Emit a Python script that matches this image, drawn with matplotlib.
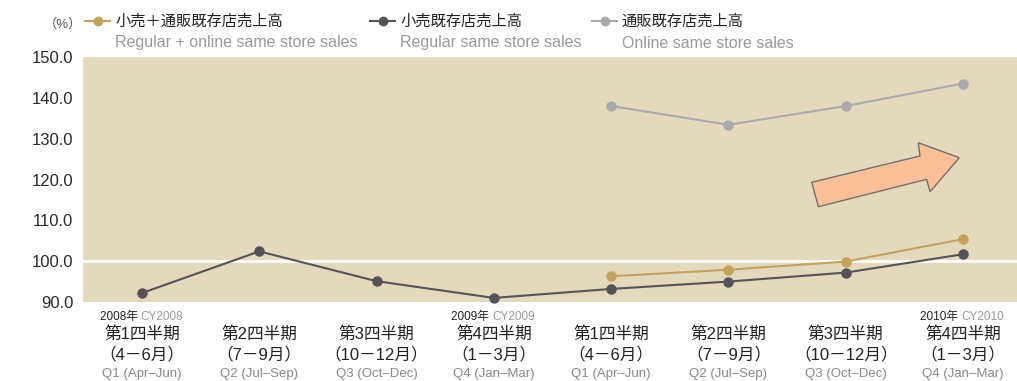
import matplotlib.pyplot as plt
from matplotlib.lines import Line2D
from matplotlib.patches import Polygon
import matplotlib.transforms as mtransforms

plt.rcParams['font.family'] = ['Liberation Sans', 'Noto Sans CJK JP', 'DejaVu Sans']

# data
quarters_jp = ['第1四半期', '第2四半期', '第3四半期', '第4四半期',
               '第1四半期', '第2四半期', '第3四半期', '第4四半期']
months_jp = ['（4－6月）', '（7－9月）', '（10－12月）', '（1－3月）',
             '（4－6月）', '（7－9月）', '（10－12月）', '（1－3月）']
quarters_en = ['Q1 (Apr–Jun)', 'Q2 (Jul–Sep)', 'Q3 (Oct–Dec)', 'Q4 (Jan–Mar)',
               'Q1 (Apr–Jun)', 'Q2 (Jul–Sep)', 'Q3 (Oct–Dec)', 'Q4 (Jan–Mar)']
year_marks = {0: ('2008年', 'CY2008'), 3: ('2009年', 'CY2009'), 7: ('2010年', 'CY2010')}

regular = [92.2, 102.4, 95.1, 91.0, 93.2, 95.0, 97.2, 101.7]
combined_x = [4, 5, 6, 7]
combined = [96.3, 97.9, 99.9, 105.4]
online_x = [4, 5, 6, 7]
online = [138.0, 133.4, 138.0, 143.5]

c_gold = '#c4a25a'
c_dark = '#545458'
c_gray = '#a9aaae'
bg = '#e5d9bd'

fig = plt.figure(figsize=(10.17, 3.81), dpi=100)
ax = fig.add_axes([83/1017, 79/381, 934/1017, 245/381])
ax.set_facecolor(bg)
for s in ax.spines.values():
    s.set_visible(False)

ax.set_xlim(-0.503, 7.46)
ax.set_ylim(90, 150)
ax.set_yticks([90, 100, 110, 120, 130, 140, 150])
ax.set_yticklabels(['%.1f' % v for v in [90, 100, 110, 120, 130, 140, 150]],
                   fontsize=12, color='#2a2a2a')
ax.tick_params(axis='y', length=0, pad=7)
ax.set_xticks([])
ax.axhline(100, color='white', lw=2, zorder=1)

x = list(range(len(regular)))
ax.plot(x, regular, color=c_dark, lw=1.5, marker='o', ms=6.5, zorder=3, clip_on=False)
ax.plot(combined_x, combined, color=c_gold, lw=1.5, marker='o', ms=6.5, zorder=3)
ax.plot(online_x, online, color=c_gray, lw=1.5, marker='o', ms=6.5, zorder=3)

# arrow
arrow = Polygon([(0.7802, 0.4886), (0.7873, 0.389), (0.9033, 0.5008), (0.9069, 0.450),
                 (0.9382, 0.589), (0.8943, 0.650), (0.8961, 0.596)],
                closed=True, transform=ax.transAxes, facecolor='#fdbf97',
                edgecolor='#707070', lw=1, zorder=2)
ax.add_patch(arrow)

# x labels
trans = mtransforms.blended_transform_factory(ax.transData, fig.transFigure)
for i in x:
    ax.text(i, 1 - 334/381, quarters_jp[i], transform=trans, ha='center', va='center',
            fontsize=12, color='#222222')
    ax.text(i, 1 - 354/381, months_jp[i], transform=trans, ha='center', va='center',
            fontsize=12, color='#222222')
    ax.text(i, 1 - 374/381, quarters_en[i], transform=trans, ha='center', va='center',
            fontsize=9.5, color='#888888')
for i, (yj, ye) in year_marks.items():
    ax.text(i - 0.01, 1 - 317/381, yj + ' ', transform=trans, ha='right', va='center',
            fontsize=8.5, color='#222222')
    ax.text(i - 0.01, 1 - 317/381, ye, transform=trans, ha='left', va='center',
            fontsize=8.5, color='#999999')

# legend
fig.text(63/1017, 1 - 24/381, '（%）', ha='center', va='center', fontsize=9.5, color='#555555')
legend_items = [(85, c_gold, '小売＋通販既存店売上高', 'Regular + online same store sales'),
                (370, c_dark, '小売既存店売上高', 'Regular same store sales'),
                (592, c_gray, '通販既存店売上高', 'Online same store sales')]
for px, col, jp, en in legend_items:
    fig.add_artist(Line2D([px/1017, (px + 25)/1017], [1 - 21/381, 1 - 21/381],
                          color=col, lw=1.5, transform=fig.transFigure))
    fig.add_artist(Line2D([(px + 12.5)/1017], [1 - 21/381], color=col, marker='o', ms=6,
                          transform=fig.transFigure))
    fig.text((px + 30)/1017, 1 - 22/381, jp, ha='left', va='center', fontsize=11, color='#222222')
    fig.text((px + 30)/1017, 1 - 43/381, en, ha='left', va='center', fontsize=11.5, color='#999999')

fig.savefig('out.png', dpi=100)
